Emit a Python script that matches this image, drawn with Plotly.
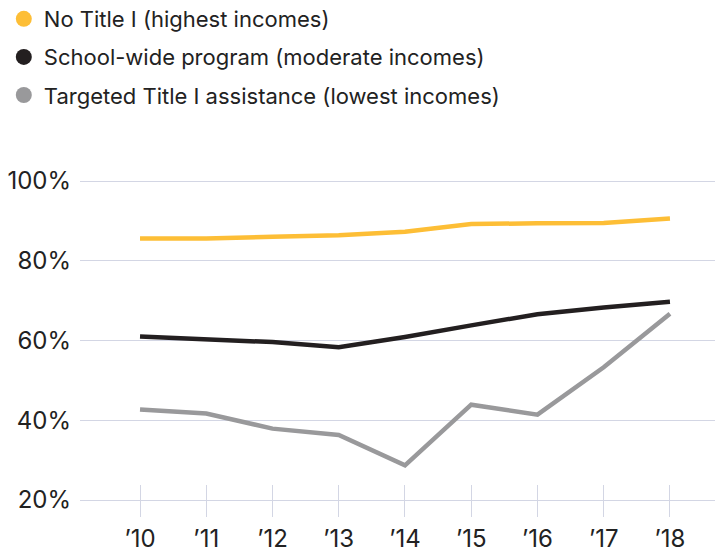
import plotly.graph_objects as go

years = [2010, 2011, 2012, 2013, 2014, 2015, 2016, 2017, 2018]
year_labels = ["’10", "’11", "’12", "’13", "’14", "’15", "’16", "’17", "’18"]
no_title_i = [85.6, 85.6, 86.0, 86.4, 87.3, 89.2, 89.4, 89.5, 90.6]
school_wide = [61.0, 60.2, 59.6, 58.3, 60.9, 63.8, 66.6, 68.3, 69.7]
targeted = [42.7, 41.7, 37.9, 36.3, 28.7, 43.9, 41.4, 53.3, 66.7]
y_ticks = [20, 40, 60, 80, 100]
y_tick_labels = ["20%", "40%", "60%", "80%", "100%"]

series = [
    ("No Title I (highest incomes)", no_title_i, "#fdbe36"),
    ("School-wide program (moderate incomes)", school_wide, "#231f20"),
    ("Targeted Title I assistance (lowest incomes)", targeted, "#99999b"),
]

FONT = "Inter, Roboto, sans-serif"
fig = go.Figure()
for i, (name, vals, color) in enumerate(series):
    fig.add_trace(go.Scatter(
        x=years, y=vals, mode="lines", name=name,
        line=dict(color=color, width=4.5),
        showlegend=False, hoverinfo="skip",
    ))
for i, (name, vals, color) in enumerate(series):
    fig.add_trace(go.Scatter(
        x=[None], y=[None], mode="markers", name=name,
        marker=dict(color=color, size=16, symbol="circle"),
        legendgroup=f"g{i}",
    ))

fig.update_layout(
    width=715, height=552,
    margin=dict(l=80, r=0, t=170, b=35, autoexpand=False),
    paper_bgcolor="white", plot_bgcolor="white",
    font=dict(family=FONT, size=22, color="#222222"),
    showlegend=True,
    legend=dict(
        xref="paper", yref="paper",
        x=-0.12, y=1.4957, xanchor="left", yanchor="top",
        font=dict(family=FONT, size=22, color="#222222"),
        tracegroupgap=6.5, itemsizing="trace",
        bgcolor="rgba(0,0,0,0)",
    ),
    xaxis=dict(
        range=[2009.094, 2018.68],
        tickmode="array", tickvals=years, ticktext=year_labels,
        showgrid=False, zeroline=False, showline=False,
        ticks="inside", ticklen=32, tickwidth=1, tickcolor="#d3d6e4",
        tickfont=dict(family=FONT, size=24, color="#222222"),
        ticklabelstandoff=5,
    ),
    yaxis=dict(
        range=[15.74, 102.76],
        tickmode="array", tickvals=y_ticks, ticktext=y_tick_labels,
        showgrid=True, gridcolor="#d3d6e4", gridwidth=1,
        zeroline=False, showline=False, ticks="",
        tickfont=dict(family=FONT, size=24, color="#222222"),
        ticklabelstandoff=8,
    ),
)

fig.write_html(
    "out.html",
    config={"displayModeBar": False},
    post_script="document.body.style.margin='0';document.body.style.padding='0';",
)
